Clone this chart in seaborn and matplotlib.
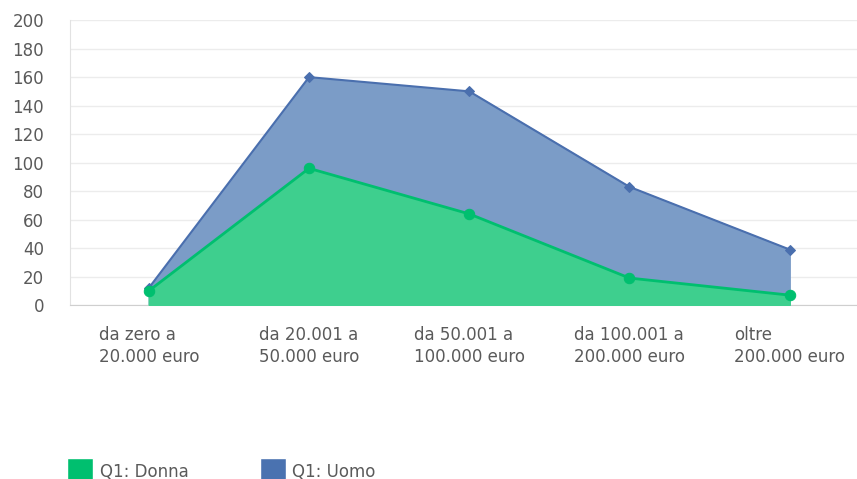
import pandas as pd
import seaborn as sns
import matplotlib.pyplot as plt
from matplotlib.patches import Patch

categories = ["da zero a\n20.000 euro", "da 20.001 a\n50.000 euro", "da 50.001 a\n100.000 euro",
              "da 100.001 a\n200.000 euro", "oltre\n200.000 euro"]
donna = [10, 96, 64, 19, 7]
uomo = [12, 160, 150, 83, 39]

df = pd.DataFrame({"pos": range(len(categories)), "Donna": donna, "Uomo": uomo})

sns.set_style("white")
plt.rcParams['font.family'] = ['DejaVu Sans']

fig = plt.figure(figsize=(8.57, 4.79), dpi=100)
ax = fig.add_axes([0.082, 0.363, 0.918, 0.595])

blue_fill = "#7b9cc7"
blue_line = "#4a6fae"
green_fill = "#3ecf8e"
green_line = "#00bf6f"
text_col = "#5a5a5a"

# Uomo behind, Donna in front
ax.fill_between(df["pos"], df["Uomo"], color=blue_fill, zorder=2)
sns.lineplot(data=df, x="pos", y="Uomo", color=blue_line, marker="D", markersize=5,
             markeredgecolor=blue_line, linewidth=1.5, ax=ax, zorder=3)
ax.fill_between(df["pos"], df["Donna"], color=green_fill, zorder=4)
sns.lineplot(data=df, x="pos", y="Donna", color=green_line, marker="o", markersize=7.5,
             markeredgecolor=green_line, linewidth=2, ax=ax, zorder=5)

ax.set_xlim(-0.49, 4.42)
ax.set_ylim(0, 200)
ax.set_yticks(range(0, 201, 20))
ax.yaxis.grid(True, color="#ececec", linewidth=1)
ax.set_axisbelow(True)
for s in ["top", "right"]:
    ax.spines[s].set_visible(False)
ax.spines["left"].set_color("#e2e2e2")
ax.spines["bottom"].set_color("#cfcfcf")
ax.tick_params(axis="y", colors=text_col, labelsize=12, length=0, pad=19)
ax.set_xticks(range(len(categories)))
ax.set_xticklabels(categories, multialignment="left", color=text_col, fontsize=12,
                   linespacing=1.3)
ax.tick_params(axis="x", length=0, pad=15)
ax.set_xlabel("")
ax.set_ylabel("")

handles = [Patch(facecolor="#00bf6f", label="Q1: Donna"), Patch(facecolor="#4a72b0", label="Q1: Uomo")]
fig.legend(handles=handles, loc="upper left", bbox_to_anchor=(67 / 857, 1 - 458 / 479), ncol=2,
           frameon=False, borderpad=0, borderaxespad=0, fontsize=12, handlelength=1.55,
           handleheight=2.1, handletextpad=0.4, columnspacing=4.3, labelcolor=text_col)

fig.savefig("out.png", dpi=100)
